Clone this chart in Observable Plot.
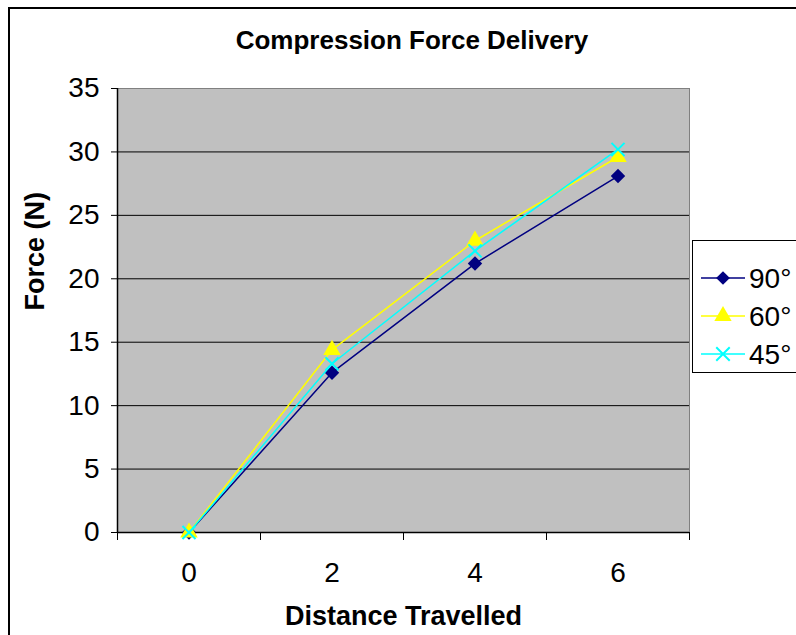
<!DOCTYPE html>
<html>
<head>
<meta charset="utf-8">
<script src="https://cdn.jsdelivr.net/npm/d3@7"></script>
<script src="https://cdn.jsdelivr.net/npm/@observablehq/plot@0.6"></script>
<style>
  html, body { margin: 0; padding: 0; background: #fff; }
  #wrap { position: relative; width: 796px; height: 635px; overflow: hidden; font-family: "Liberation Sans", Arial, sans-serif; }
  #border { position: absolute; left: 8px; top: 7px; right: -10px; bottom: -10px; border-top: 2px solid #000; border-left: 2px solid #000; }
  #title { position: absolute; left: 0; width: 824px; top: 25px; text-align: center; font-weight: bold; font-size: 26px; }
  #chart { position: absolute; left: 0; top: 0; }
  #legend { position: absolute; left: 692px; top: 240px; width: 120px; height: 131px; border: 1px solid #000; background: #fff; }
</style>
</head>
<body>
<div id="wrap">
  <div id="border"></div>
  <div id="chart"></div>
  <div id="title">Compression Force Delivery</div>
  <div id="legend"></div>
</div>
<script>
// ---- data ----
const distance = [0, 2, 4, 6];
const seriesNames = ["90°", "60°", "45°"];
const force90 = [0, 12.6, 21.2, 28.1];
const force60 = [0, 14.4, 23.0, 29.6];
const force45 = [0, 13.3, 22.2, 30.2];
const yTicks = [0, 5, 10, 15, 20, 25, 30, 35];
const xTicks = [0, 2, 4, 6];
const xBoundaries = [-1, 1, 3, 5, 7];

const colors = ["#000080", "#FFFF00", "#00FFFF"];
const symbols = ["diamond", "triangle", "times"];
const d3Symbols = {diamond: d3.symbolDiamond2, triangle: d3.symbolTriangle, times: d3.symbolTimes};

const rows = [];
[force90, force60, force45].forEach((vals, si) => {
  vals.forEach((v, i) => rows.push({series: seriesNames[si], distance: distance[i], force: v}));
});

const font = "Liberation Sans, Arial, sans-serif";

const marks = [
  Plot.frame({fill: "#C0C0C0", stroke: "#808080"}),
  Plot.ruleY(yTicks.filter(d => d > 0 && d < 35), {stroke: "#000", strokeWidth: 1}),
  Plot.ruleY([0], {stroke: "#000", strokeWidth: 1.5}),
  Plot.ruleX([-1], {stroke: "#000", strokeWidth: 1.5}),
  Plot.axisY(yTicks, {tickSize: 6, tickPadding: 12, fontSize: 28, stroke: "#000", label: null}),
  Plot.axisX(xBoundaries, {tickSize: 8, tickFormat: () => "", stroke: "#000", label: null}),
  Plot.axisX(xTicks, {tickSize: 0, tickPadding: 30, fontSize: 28, label: null}),
];

seriesNames.forEach((name, si) => {
  const data = rows.filter(r => r.series === name);
  marks.push(Plot.line(data, {x: "distance", y: "force", stroke: colors[si], strokeWidth: 1.5}));
  if (symbols[si] === "times") {
    marks.push(Plot.dot(data, {x: "distance", y: "force", symbol: d3Symbols.times, stroke: colors[si], strokeWidth: 2, r: 6}));
  } else {
    marks.push(Plot.dot(data, {x: "distance", y: "force", symbol: d3Symbols[symbols[si]], fill: colors[si], stroke: "none", r: symbols[si] === "triangle" ? 6.5 : 6.5}));
  }
});

marks.push(Plot.text(["Distance Travelled"], {frameAnchor: "bottom", dy: 92, fontSize: 27, fontWeight: "bold"}));
marks.push(Plot.text(["Force (N)"], {frameAnchor: "left", dx: -82, rotate: -90, fontSize: 27, fontWeight: "bold"}));

const chart = Plot.plot({
  width: 796,
  height: 635,
  marginLeft: 117,
  marginRight: 107,
  marginTop: 88,
  marginBottom: 103,
  style: {fontFamily: font, background: "transparent", color: "#000", overflow: "visible"},
  x: {type: "linear", domain: [-1, 7]},
  y: {type: "linear", domain: [0, 35]},
  marks
});
document.getElementById("chart").appendChild(chart);

// ---- legend ----
const legend = d3.select("#legend").append("svg").attr("width", 120).attr("height", 131);
seriesNames.forEach((name, si) => {
  const y = 37 + si * 38;
  const g = legend.append("g");
  g.append("line").attr("x1", 8).attr("x2", 52).attr("y1", y).attr("y2", y).attr("stroke", colors[si]).attr("stroke-width", 1.5);
  const size = symbols[si] === "triangle" ? 130 : 120;
  const p = g.append("path").attr("d", d3.symbol(d3Symbols[symbols[si]], size)()).attr("transform", `translate(30,${y})`);
  if (symbols[si] === "times") p.attr("fill", "none").attr("stroke", colors[si]).attr("stroke-width", 2);
  else p.attr("fill", colors[si]);
  g.append("text").attr("x", 56).attr("y", y + 10).attr("font-size", 28).attr("font-family", font).text(name);
});
</script>
</body>
</html>
